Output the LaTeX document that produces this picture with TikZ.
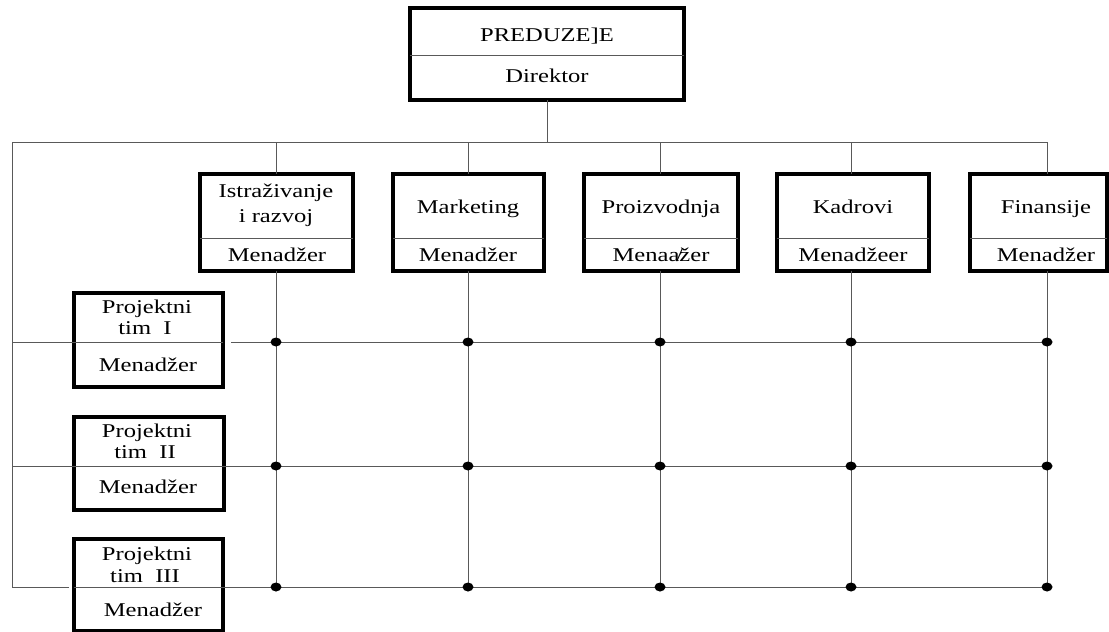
\documentclass[tikz,border=0pt]{standalone}
\usepackage{fontspec}
\newfontfamily\lbfont[FakeStretch=1.26]{Liberation Serif}
\begin{document}
\begin{tikzpicture}[x=1pt,y=-1pt,
  frame/.style={draw=black, line width=3.4pt, inner sep=0pt, outer sep=0pt, anchor=north west},
  link/.style={draw=black!65, line width=1pt},
  sep/.style={draw=black!65, line width=1pt},
  lbl/.style={anchor=base, inner sep=0pt, font=\lbfont\fontsize{19.5}{23}\selectfont}]
\useasboundingbox (0,0) rectangle (1109,632);

% ---------- company ----------
\node[frame, minimum width=274pt, minimum height=92pt] (top) at (410,8) {};
\draw[sep] (top.west |- 0,55) -- (top.east |- 0,55);
\node[lbl] (topname) at (547,41) {PREDUZE]E};
\node[lbl] (topboss) at (547,82) {Direktor};

% ---------- departments ----------
\node[frame, minimum width=153pt, minimum height=97pt] (d1) at (200,174) {};
\node[frame, minimum width=151pt, minimum height=97pt] (d2) at (393,174) {};
\node[frame, minimum width=154pt, minimum height=97pt] (d3) at (584,174) {};
\node[frame, minimum width=152pt, minimum height=97pt] (d4) at (777,174) {};
\node[frame, minimum width=137pt, minimum height=97pt] (d5) at (970,174) {};
\foreach \d in {d1,d2,d3,d4,d5}
  \draw[sep] (\d.west |- 0,238) -- (\d.east |- 0,238);

\node[lbl] (d1a) at (276,197) {Istraživanje};
\node[lbl] (d1b) at (276,222) {i razvoj};
\node[lbl] (d2a) at (468,213) {Marketing};
\node[lbl] (d3a) at (661,213) {Proizvodnja};
\node[lbl] (d4a) at (853,213) {Kadrovi};
\node[lbl] (d5a) at (1046,213) {Finansije};
\node[lbl] (d1m) at (277,261) {Menadžer};
\node[lbl] (d2m) at (468,261) {Menadžer};
\node[lbl] (d3m) at (661,261) {Menaa\rlap{\kern-3pt/}žer};
\node[lbl] (d4m) at (853,261) {Menadžeer};
\node[lbl] (d5m) at (1046,261) {Menadžer};

% ---------- project teams ----------
\node[frame, minimum width=149pt, minimum height=94pt] (p1) at (74,293) {};
\node[frame, minimum width=150pt, minimum height=93pt] (p2) at (74,417) {};
\node[frame, minimum width=149pt, minimum height=92pt] (p3) at (74,539) {};
\draw[sep] (p1.west |- 0,342) -- (p1.east |- 0,342);
\draw[sep] (p2.west |- 0,466) -- (p2.east |- 0,466);
\draw[sep] (p3.west |- 0,587) -- (p3.east |- 0,587);

\node[lbl] (p1a) at (147,313) {Projektni};
\node[lbl] (p1b) at (145,334) {tim\ \ I};
\node[lbl] (p1m) at (148,371) {Menadžer};
\node[lbl] (p2a) at (147,437) {Projektni};
\node[lbl] (p2b) at (145,458) {tim\ \ II};
\node[lbl] (p2m) at (148,493) {Menadžer};
\node[lbl] (p3a) at (147,560) {Projektni};
\node[lbl] (p3b) at (145,582) {tim\ \ III};
\node[lbl] (p3m) at (153,616) {Menadžer};

% ---------- bus and grid ----------
\coordinate (busL) at (12,142);
\coordinate (c1) at (276,142);
\coordinate (c2) at (468,142);
\coordinate (c3) at (660,142);
\coordinate (c4) at (851,142);
\coordinate (c5) at (1047,142);
\coordinate (r1) at (12,342);
\coordinate (r2) at (12,466);
\coordinate (r3) at (12,587);

\draw[link] (top.south) -- (top.south |- busL);
\draw[link] (r3 -| 69,0) -- (r3) -- (busL) -- (c5);
\draw[link] (c1) -- (c1 |- d1.north);
\draw[link] (c2) -- (c2 |- d2.north);
\draw[link] (c3) -- (c3 |- d3.north);
\draw[link] (c4) -- (c4 |- d4.north);
\draw[link] (c5) -- (c5 |- d5.north);

\draw[link] (c1 |- d1.south) -- (c1 |- r3);
\draw[link] (c2 |- d2.south) -- (c2 |- r3);
\draw[link] (c3 |- d3.south) -- (c3 |- r3);
\draw[link] (c4 |- d4.south) -- (c4 |- r3);
\draw[link] (c5 |- d5.south) -- (c5 |- r3);

\draw[link] (r1) -- (r1 -| p1.west);
\draw[link] (r1 -| 231,0) -- (r1 -| c5);
\draw[link] (r2) -- (r2 -| p2.west);
\draw[link] (r2 -| p2.east) -- (r2 -| c5);
\draw[link] (r3 -| p3.east) -- (r3 -| c5);

\foreach \r in {r1,r2,r3}
  \foreach \c in {c1,c2,c3,c4,c5}
    \fill (\c |- \r) ellipse [x radius=5.5pt, y radius=4.5pt];
\end{tikzpicture}
\end{document}
